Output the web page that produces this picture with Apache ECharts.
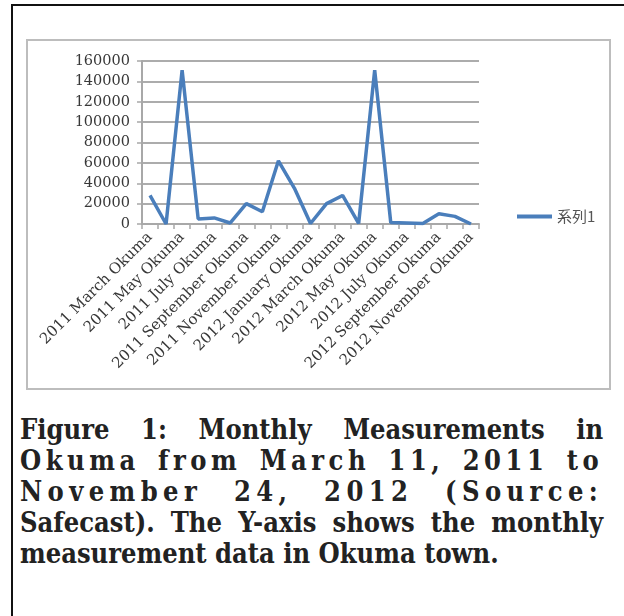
<!DOCTYPE html>
<html>
<head>
<meta charset="utf-8">
<script src="https://cdn.jsdelivr.net/npm/echarts@6/dist/echarts.min.js"></script>
<style>
  html, body { margin: 0; padding: 0; background: #fff; }
  body { width: 624px; height: 616px; position: relative; overflow: hidden; }
  #frame { position: absolute; left: 11px; top: 4px; width: 700px; height: 700px;
    border-left: 2px solid #111; border-top: 2px solid #111; }
  #box { position: absolute; left: 26px; top: 39px; width: 585px; height: 351px;
    box-sizing: border-box; border: 2px solid #bdbdbd; }
  #main { position: absolute; left: 0; top: 0; width: 624px; height: 400px; }
  #caption { position: absolute; left: 20px; top: 414px; width: 648px;
    transform: scaleX(0.9); transform-origin: left top;
    font-family: "DejaVu Serif", serif; font-weight: bold;
    font-size: 27px; line-height: 31px; color: #222; }
  #caption div { text-align: justify; text-align-last: justify; white-space: nowrap; }
  #caption div.last { text-align: left; text-align-last: left; }
</style>
</head>
<body>
<div id="frame"></div>
<div id="box"></div>
<div id="main"></div>
<div id="caption">
  <div>Figure 1: Monthly Measurements in</div>
  <div style="letter-spacing:5px">Okuma from March 11, 2011 to</div>
  <div style="letter-spacing:6px">November 24, 2012 (Source:</div>
  <div>Safecast). The Y-axis shows the monthly</div>
  <div class="last">measurement data in Okuma town.</div>
</div>
<script>
// months from March 2011 to November 2012
const months = [
  "2011 March Okuma", "2011 April Okuma", "2011 May Okuma", "2011 June Okuma",
  "2011 July Okuma", "2011 August Okuma", "2011 September Okuma", "2011 October Okuma",
  "2011 November Okuma", "2011 December Okuma", "2012 January Okuma", "2012 February Okuma",
  "2012 March Okuma", "2012 April Okuma", "2012 May Okuma", "2012 June Okuma",
  "2012 July Okuma", "2012 August Okuma", "2012 September Okuma", "2012 October Okuma",
  "2012 November Okuma",
];
const series1 = [
  28000, 0, 151000, 5000, 6000, 1000, 20000, 12000, 62000, 35000, 500,
  20000, 28000, 500, 151000, 1500, 1000, 500, 10000, 7500, 0,
];
const seriesName = "系列1";

const chart = echarts.init(document.getElementById("main"), null, { renderer: "canvas" });

const axisFont = { fontFamily: "DejaVu Serif", color: "#383838" };

chart.setOption({
  animation: false,
  grid: { left: 142, top: 61, width: 337, height: 163 },
  legend: {
    data: [seriesName],
    left: 512,
    top: 204,
    icon: "rect",
    itemWidth: 35,
    itemHeight: 4,
    textStyle: { fontFamily: "Noto Sans CJK JP", fontSize: 15, color: "#555" },
  },
  xAxis: {
    type: "category",
    data: months,
    boundaryGap: true,
    axisLine: { lineStyle: { color: "#a8a8a8", width: 2 } },
    axisTick: { show: true, interval: 0, length: 5, lineStyle: { color: "#a8a8a8", width: 1.5 } },
    axisLabel: { ...axisFont, fontSize: 15, interval: 1, rotate: 45, margin: 11 },
  },
  yAxis: {
    type: "value",
    min: 0,
    max: 160000,
    interval: 20000,
    axisLine: { show: true, lineStyle: { color: "#a8a8a8", width: 2 } },
    axisTick: { show: true, length: 5, lineStyle: { color: "#a8a8a8", width: 1.5 } },
    splitLine: { lineStyle: { color: "#acacac", width: 2 } },
    axisLabel: { ...axisFont, fontSize: 14.5, margin: 12, formatter: (v) => String(v) },
  },
  series: [
    {
      name: seriesName,
      type: "line",
      data: series1,
      showSymbol: false,
      color: "#4a7ebb",
      lineStyle: { width: 3.5 },
    },
  ],
});
</script>
</body>
</html>
